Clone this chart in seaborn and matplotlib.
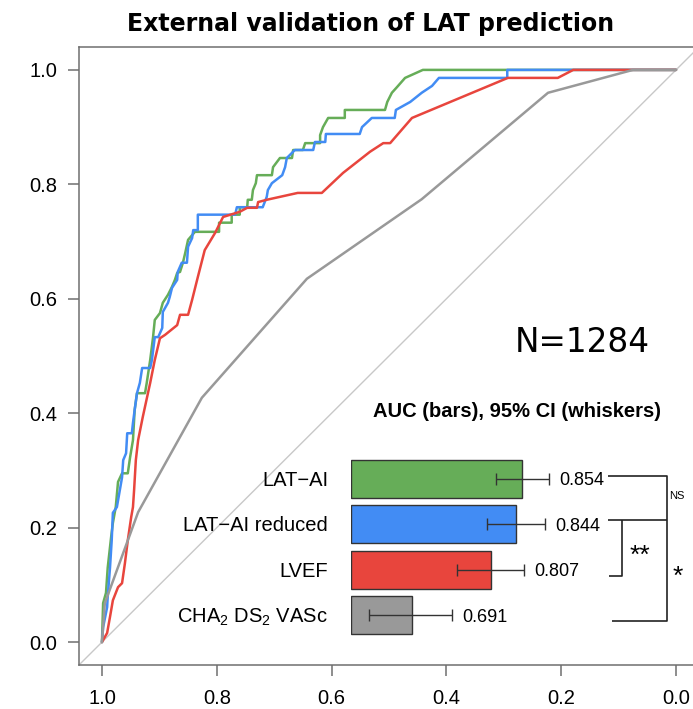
import numpy as np
import pandas as pd
import matplotlib
matplotlib.use("Agg")
import matplotlib.pyplot as plt
import seaborn as sns

# ---------------- data ----------------
green_spec = [1.000, 0.998, 0.993, 0.990, 0.986, 0.984, 0.981, 0.976, 0.972, 0.965, 0.955, 0.951,
              0.946, 0.943, 0.939, 0.925, 0.922, 0.916, 0.911, 0.908, 0.899, 0.894, 0.885, 0.878,
              0.873, 0.869, 0.864, 0.859, 0.855, 0.850, 0.838, 0.796, 0.796, 0.774, 0.774, 0.760,
              0.760, 0.747, 0.746, 0.739, 0.737, 0.732, 0.730, 0.704, 0.702, 0.690, 0.669, 0.667,
              0.650, 0.646, 0.620, 0.620, 0.615, 0.606, 0.577, 0.577, 0.507, 0.503, 0.495, 0.486,
              0.472, 0.441, 0.000]
green_sens = [0.000, 0.068, 0.086, 0.130, 0.166, 0.184, 0.208, 0.236, 0.280, 0.295, 0.295, 0.323,
              0.353, 0.406, 0.435, 0.435, 0.453, 0.493, 0.533, 0.563, 0.575, 0.593, 0.607, 0.621,
              0.633, 0.645, 0.647, 0.663, 0.680, 0.703, 0.717, 0.717, 0.733, 0.733, 0.747, 0.747,
              0.760, 0.760, 0.773, 0.773, 0.790, 0.802, 0.816, 0.816, 0.830, 0.846, 0.846, 0.860,
              0.860, 0.872, 0.872, 0.886, 0.900, 0.916, 0.916, 0.930, 0.930, 0.944, 0.960, 0.970,
              0.986, 1.000, 1.000]

blue_spec = [1.000, 0.998, 0.991, 0.990, 0.986, 0.983, 0.981, 0.974, 0.965, 0.963, 0.958, 0.956,
             0.948, 0.946, 0.943, 0.939, 0.934, 0.930, 0.916, 0.913, 0.908, 0.902, 0.895, 0.894,
             0.885, 0.882, 0.878, 0.869, 0.868, 0.861, 0.852, 0.850, 0.843, 0.841, 0.833, 0.833,
             0.768, 0.765, 0.720, 0.713, 0.711, 0.704, 0.686, 0.681, 0.678, 0.664, 0.632, 0.629,
             0.611, 0.610, 0.551, 0.547, 0.530, 0.490, 0.488, 0.463, 0.443, 0.425, 0.413, 0.294,
             0.294, 0.000]
blue_sens = [0.000, 0.026, 0.061, 0.079, 0.130, 0.178, 0.226, 0.236, 0.288, 0.318, 0.330, 0.365,
             0.365, 0.383, 0.406, 0.435, 0.453, 0.479, 0.479, 0.493, 0.533, 0.533, 0.549, 0.577,
             0.593, 0.603, 0.619, 0.633, 0.647, 0.663, 0.663, 0.691, 0.706, 0.720, 0.720, 0.747,
             0.747, 0.760, 0.760, 0.778, 0.790, 0.802, 0.816, 0.830, 0.846, 0.860, 0.860, 0.874,
             0.874, 0.888, 0.888, 0.900, 0.916, 0.916, 0.930, 0.944, 0.960, 0.972, 0.986, 0.986,
             1.000, 1.000]

red_spec = [1.000, 0.991, 0.986, 0.981, 0.972, 0.965, 0.960, 0.955, 0.949, 0.946, 0.944, 0.941,
            0.937, 0.929, 0.916, 0.908, 0.899, 0.890, 0.869, 0.864, 0.850, 0.843, 0.833, 0.821,
            0.803, 0.789, 0.760, 0.747, 0.730, 0.728, 0.713, 0.659, 0.617, 0.580, 0.533, 0.510,
            0.498, 0.460, 0.293, 0.206, 0.179, 0.000]
red_sens = [0.000, 0.016, 0.044, 0.073, 0.096, 0.103, 0.138, 0.178, 0.219, 0.236, 0.266, 0.318,
            0.353, 0.393, 0.453, 0.493, 0.531, 0.537, 0.554, 0.572, 0.572, 0.598, 0.638, 0.685,
            0.715, 0.743, 0.752, 0.759, 0.759, 0.769, 0.773, 0.785, 0.785, 0.820, 0.857, 0.872,
            0.872, 0.916, 0.986, 0.986, 1.000, 1.000]

gray_spec = [1.000, 0.995, 0.937, 0.826, 0.643, 0.443, 0.223, 0.075, 0.000]
gray_sens = [0.000, 0.068, 0.227, 0.427, 0.635, 0.774, 0.960, 1.000, 1.000]

models = ["LAT\u2212AI", "LAT\u2212AI reduced", "LVEF", r"CHA$_2$ DS$_2$ VASc"]
auc = [0.854, 0.844, 0.807, 0.691]
ci_lo = [0.815, 0.801, 0.757, 0.627]
ci_hi = [0.893, 0.887, 0.857, 0.750]
auc_text = ["0.854", "0.844", "0.807", "0.691"]
colors = ["#66ad58", "#428cf4", "#e8453d", "#999999"]

x_ticks = [1.0, 0.8, 0.6, 0.4, 0.2, 0.0]
y_ticks = [0.0, 0.2, 0.4, 0.6, 0.8, 1.0]
tick_text = ["1.0", "0.8", "0.6", "0.4", "0.2", "0.0"]
ytick_text = ["0.0", "0.2", "0.4", "0.6", "0.8", "1.0"]

title = "External validation of LAT prediction"
n_label = "N=1284"
inset_title = "AUC (bars), 95% CI (whiskers)"
sig_ns, sig_2, sig_1 = "NS", "**", "*"
AUC_BASE = 0.6

# ---------------- style ----------------
sns.set_theme(style="white")
plt.rcParams["font.family"] = ["Liberation Sans", "DejaVu Sans"]
plt.rcParams["text.color"] = "black"
plt.rcParams["axes.labelcolor"] = "black"
plt.rcParams["xtick.color"] = "black"
plt.rcParams["ytick.color"] = "black"
plt.rcParams["mathtext.fontset"] = "custom"
plt.rcParams["mathtext.rm"] = "Liberation Sans"
plt.rcParams["mathtext.it"] = "Liberation Sans:italic"
plt.rcParams["mathtext.bf"] = "Liberation Sans:bold"
plt.rcParams["mathtext.default"] = "regular"

W, H = 693, 709
fig = plt.figure(figsize=(W / 100, H / 100), dpi=100)
fig.patch.set_facecolor("white")

ax = fig.add_axes([79 / W, 44 / H, 620 / W, 618 / H])
ax.set_facecolor("white")

ax.axline((1, 0), (0, 1), color="#c8c8c8", lw=1.0, zorder=1)
for sp, se, c in [(green_spec, green_sens, colors[0]), (blue_spec, blue_sens, colors[1]),
                  (red_spec, red_sens, colors[2]), (gray_spec, gray_sens, colors[3])]:
    sns.lineplot(x=sp, y=se, sort=False, estimator=None, color=c, linewidth=1.8, ax=ax)

ax.set_xlim(1.04, -0.04)
ax.set_ylim(-0.04, 1.04)
ax.set_xticks(x_ticks)
ax.set_xticklabels(tick_text)
ax.set_yticks(y_ticks)
ax.set_yticklabels(ytick_text)
ax.set_xlabel("")
ax.set_ylabel("")
ax.tick_params(axis="both", which="major", direction="out", length=8, width=1.1,
               color="#6f6f6f", labelsize=14.5, labelcolor="black",
               bottom=True, left=True)
ax.tick_params(axis="x", pad=9)
ax.tick_params(axis="y", pad=7.5)
for s in ax.spines.values():
    s.set_color("#6f6f6f")
    s.set_linewidth(1.1)
ax.grid(False)

ax.text(0.164, 0.507, n_label, family="DejaVu Sans", fontsize=23.5, ha="center",
        va="baseline", color="black")

fig.text(371 / W, 1 - 31 / H, title, ha="center", va="baseline", color="black",
         family="DejaVu Sans", fontweight="bold", fontsize=17)

# ---------------- inset bar chart ----------------
ax_in = fig.add_axes([351 / W, 1 - 638 / H, 270 / W, 182 / H])
ax_in.set_facecolor("none")
df = pd.DataFrame({"model": models, "length": np.array(auc) - AUC_BASE})
sns.barplot(data=df, x="length", y="model", hue="model", palette=colors, orient="h",
            width=0.835, edgecolor="#333333", linewidth=1.0, ax=ax_in, legend=False,
            saturation=1)
pos = np.arange(len(models))
a = np.array(auc)
ax_in.errorbar(a - AUC_BASE, pos, xerr=[a - np.array(ci_lo), np.array(ci_hi) - a],
               fmt="none", ecolor="#333333", elinewidth=1.0, capsize=4, capthick=1.0)
ax_in.set_xlim(0, 0.4)
ax_in.set_ylim(3.5, -0.5)
ax_in.axis("off")

for i in range(len(models)):
    ax_in.text(-0.034, i + 0.155, models[i], ha="right", va="baseline", fontsize=14.5,
               color="black", clip_on=False)
    ax_in.text(ci_hi[i] - AUC_BASE + 0.015, i + 0.145, auc_text[i], ha="left",
               va="baseline", fontsize=13, color="black", clip_on=False)

ax_in.text(0.246, -1.357, inset_title, ha="center", va="baseline", fontsize=14.5,
           fontweight="bold", color="black", clip_on=False)

lk = dict(color="#222222", lw=1.2, clip_on=False, solid_capstyle="butt")
ax_in.plot([0.381, 0.468, 0.468, 0.387], [-0.06, -0.06, 3.13, 3.13], **lk)
ax_in.plot([0.381, 0.468], [0.91, 0.91], **lk)
ax_in.plot([0.401, 0.401, 0.382], [0.91, 2.14, 2.14], **lk)
ax_in.text(0.471, 0.38, sig_ns, ha="left", va="center", fontsize=8, color="black",
           clip_on=False)
ax_in.text(0.428, 1.85, sig_2, ha="center", va="baseline", fontsize=19, color="black",
           clip_on=False)
ax_in.text(0.484, 2.32, sig_1, ha="center", va="baseline", fontsize=19, color="black",
           clip_on=False)

fig.savefig("out.png", dpi=100)
